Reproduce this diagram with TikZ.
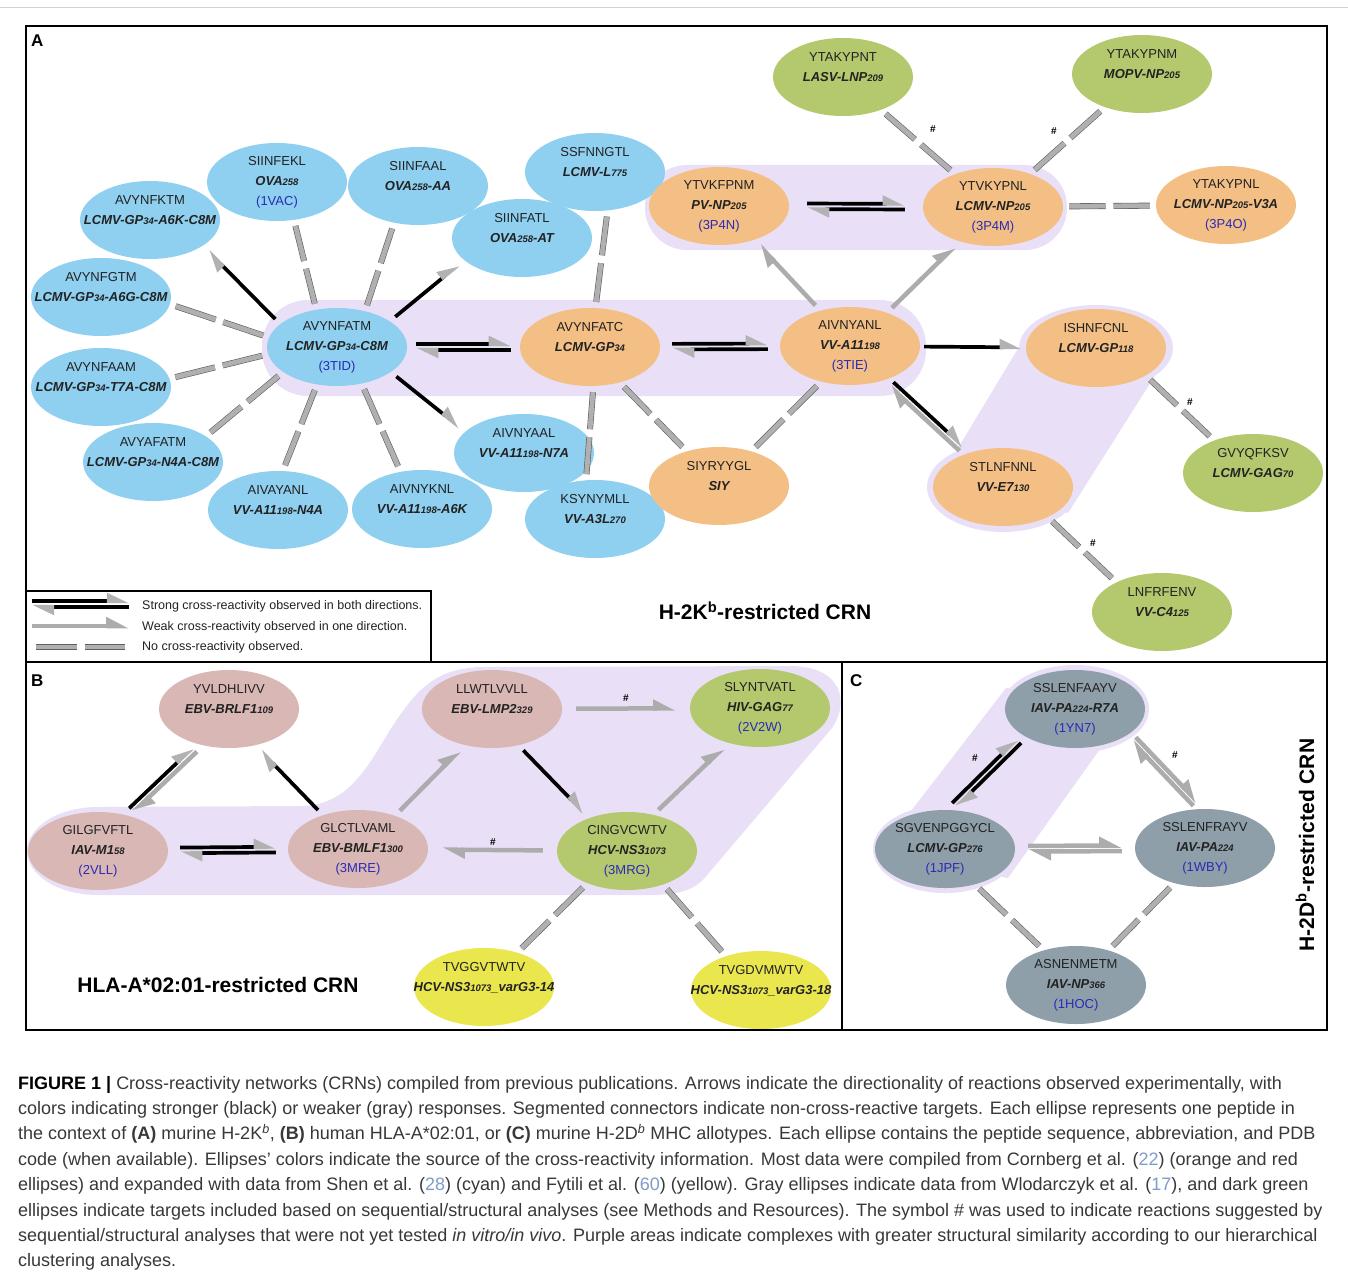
\documentclass[tikz,border=0pt]{standalone}
\usepackage{fontspec}
\setmainfont{Liberation Sans}
\usetikzlibrary{shapes.geometric,arrows.meta,calc}
\definecolor{cyanE}{HTML}{8FCFF0}
\definecolor{orangeE}{HTML}{F3BF85}
\definecolor{oliveE}{HTML}{B4C86E}
\definecolor{roseE}{HTML}{D9B7B4}
\definecolor{yellowE}{HTML}{E9E64E}
\definecolor{slateE}{HTML}{8E9FAA}
\definecolor{lav}{HTML}{E9E0F7}
\definecolor{pdb}{HTML}{2A2AB5}
\definecolor{txt}{HTML}{222222}
\definecolor{captc}{HTML}{383838}
\definecolor{refc}{HTML}{7F9CC8}
\newcommand\sm[1]{{\fontsize{9.5}{9}\selectfont #1}}
\newcommand\pep[3]{\makebox[0pt]{#1}\\\makebox[0pt]{\bfseries\itshape #2}\\\makebox[0pt]{\color{pdb}#3}}
\newcommand\twoway[4]{%
  \path (#1) -- (#2) coordinate[pos=0] (tw1) coordinate[pos=1] (tw2);
  \draw[#3] ($(tw1)!2.8pt!90:(tw2)$) -- ($(tw2)!2.8pt!-90:(tw1)$);
  \draw[#4] ($(tw2)!2.8pt!90:(tw1)$) -- ($(tw1)!2.8pt!-90:(tw2)$);}
\newcommand\nocr[2]{%
  \path (#1) -- (#2) coordinate[pos=0.5] (ncm);
  \draw[nobar, shorten <=6pt] (#1) -- ($(ncm)!4pt!(#1)$);
  \draw[nobar, shorten >=6pt] ($(ncm)!4pt!(#2)$) -- (#2);}
\tikzset{
  pep/.style={ellipse, inner sep=0pt, minimum width=140pt, minimum height=78pt,
    align=center, font=\fontsize{13}{20}\selectfont, text=txt},
  cy/.style={pep, fill=cyanE},
  org/.style={pep, fill=orangeE},
  olv/.style={pep, fill=oliveE},
  ros/.style={pep, fill=roseE},
  yel/.style={pep, fill=yellowE},
  sla/.style={pep, fill=slateE},
  endgap/.style={shorten <=#1pt, shorten >=#1pt},
  strong/.style={draw=black, line width=3.7pt, endgap=7,
    -{Triangle[harpoon, length=18pt, width=16pt, color=gray!60]}},
  weak/.style={draw=gray!65, line width=4.5pt, endgap=7,
    -{Triangle[harpoon, length=18pt, width=17pt, color=gray!65]}},
  nobar/.style={draw=gray!75!black, line width=0.6pt, double=gray!62, double distance=4.8pt},
  hashlbl/.style={font=\fontsize{10}{10}\selectfont\bfseries, inner sep=1pt},
  ttl/.style={font=\fontsize{21}{24}\selectfont\bfseries, inner sep=0pt},
  lett/.style={font=\fontsize{17}{20}\selectfont\bfseries, inner sep=0pt, anchor=base west},
  lgtext/.style={font=\fontsize{12.5}{13}\selectfont, inner sep=0pt, anchor=base west, text=txt},
  captxt/.style={font=\fontsize{18}{20}\selectfont, inner sep=0pt, anchor=base west, text=captc},
}
\begin{document}
\begin{tikzpicture}[x=1pt,y=-1pt]
\fill[white] (0,0) rectangle (1348,1276);
\useasboundingbox (0,0) rectangle (1348,1276);
\draw[gray!35, line width=1pt] (0,8) -- (1348,8);

% ---------- purple areas ----------
\fill[lav, rounded corners=46pt] (262,300) rectangle (926,396);
\fill[lav, rounded corners=42pt] (645,165) rectangle (1067,250);
\fill[lav] (1096,348) ellipse [x radius=77, y radius=43];
\fill[lav] (1003,487) ellipse [x radius=76, y radius=45];
\fill[lav] (1022,342) -- (1168,355) -- (1068,513) -- (946,468) -- cycle;
\fill[lav] (98,851) ellipse [x radius=71, y radius=44];
\fill[lav] (98,807) -- (300,806) .. controls (355,806) and (372,755) .. (398,718)
  .. controls (420,686) and (440,667) .. (485,667) -- (790,666)
  .. controls (842,666) and (850,702) .. (832,728) -- (708,874)
  .. controls (696,889) and (682,895) .. (650,895) -- (98,895) -- cycle;
\fill[lav] (1075,709) ellipse [x radius=74, y radius=44];
\fill[lav] (945,849) ellipse [x radius=72, y radius=44];
\fill[lav] (877,855) -- (1006,688) -- (1135,700) -- (1008,878) -- cycle;

% ---------- panel A nodes ----------
\node[cy] (hub) at (337,347) {\pep{AVYNFATM}{LCMV-GP\sm{34}-C8M}{(3TID)}};
\node[cy] (ekl) at (277,182) {\pep{SIINFEKL}{OVA\sm{258}}{(1VAC)}};
\node[cy] (aal) at (418,186) {\pep{SIINFAAL}{OVA\sm{258}-AA}{}};
\node[cy] (atl) at (522,238) {\pep{SIINFATL}{OVA\sm{258}-AT}{}};
\node[cy] (ngt) at (595,172) {\pep{SSFNNGTL}{LCMV-L\sm{775}}{}};
\node[cy] (ktm) at (150,220) {\pep{AVYNFKTM}{LCMV-GP\sm{34}-A6K-C8M}{}};
\node[cy] (gtm) at (101,297) {\pep{AVYNFGTM}{LCMV-GP\sm{34}-A6G-C8M}{}};
\node[cy] (aam) at (101,387) {\pep{AVYNFAAM}{LCMV-GP\sm{34}-T7A-C8M}{}};
\node[cy] (n4a) at (153,462) {\pep{AVYAFATM}{LCMV-GP\sm{34}-N4A-C8M}{}};
\node[cy] (yan) at (278,510) {\pep{AIVAYANL}{VV-A11\sm{198}-N4A}{}};
\node[cy] (a6k) at (422,509) {\pep{AIVNYKNL}{VV-A11\sm{198}-A6K}{}};
\node[cy] (n7a) at (524,453) {\pep{AIVNYAAL}{VV-A11\sm{198}-N7A}{}};
\node[cy] (a3l) at (595,519) {\pep{KSYNYMLL}{VV-A3L\sm{270}}{}};
\node[org] (atc) at (590,347) {\pep{AVYNFATC}{LCMV-GP\sm{34}}{}};
\node[org] (anl) at (850,346) {\pep{AIVNYANL}{VV-A11\sm{198}}{(3TIE)}};
\node[org] (kfp) at (719,206) {\pep{YTVKFPNM}{PV-NP\sm{205}}{(3P4N)}};
\node[org] (kyp) at (993,207) {\pep{YTVKYPNL}{LCMV-NP\sm{205}}{(3P4M)}};
\node[org] (v3a) at (1226,205) {\pep{YTAKYPNL}{LCMV-NP\sm{205}-V3A}{(3P4O)}};
\node[org] (ish) at (1096,348) {\pep{ISHNFCNL}{LCMV-GP\sm{118}}{}};
\node[org] (stl) at (1003,487) {\pep{STLNFNNL}{VV-E7\sm{130}}{}};
\node[org] (siy) at (719,486) {\pep{SIYRYYGL}{SIY}{}};
\node[olv] (lasv) at (843,77) {\pep{YTAKYPNT}{LASV-LNP\sm{209}}{}};
\node[olv] (mopv) at (1142,74) {\pep{YTAKYPNM}{MOPV-NP\sm{205}}{}};
\node[olv] (gag) at (1253,473) {\pep{GVYQFKSV}{LCMV-GAG\sm{70}}{}};
\node[olv] (c4) at (1162,612) {\pep{LNFRFENV}{VV-C4\sm{125}}{}};

% ---------- panel B nodes ----------
\node[ros] (yvl) at (229,709) {\pep{YVLDHLIVV}{EBV-BRLF1\sm{109}}{}};
\node[ros] (gil) at (98,851) {\pep{GILGFVFTL}{IAV-M1\sm{58}}{(2VLL)}};
\node[ros] (glc) at (358,849) {\pep{GLCTLVAML}{EBV-BMLF1\sm{300}}{(3MRE)}};
\node[ros] (llw) at (492,709) {\pep{LLWTLVVLL}{EBV-LMP2\sm{329}}{}};
\node[olv] (sly) at (760,708) {\pep{SLYNTVATL}{HIV-GAG\sm{77}}{(2V2W)}};
\node[olv] (cin) at (627,851) {\pep{CINGVCWTV}{HCV-NS3\sm{1073}}{(3MRG)}};
\node[yel] (vg14) at (484,987) {\pep{TVGGVTWTV}{HCV-NS3\sm{1073}\_varG3-14}{}};
\node[yel] (vg18) at (761,990) {\pep{TVGDVMWTV}{HCV-NS3\sm{1073}\_varG3-18}{}};

% ---------- panel C nodes ----------
\node[sla] (ssla) at (1075,709) {\pep{SSLENFAAYV}{IAV-PA\sm{224}-R7A}{(1YN7)}};
\node[sla] (sgv) at (945,849) {\pep{SGVENPGGYCL}{LCMV-GP\sm{276}}{(1JPF)}};
\node[sla] (sslr) at (1205,848) {\pep{SSLENFRAYV}{IAV-PA\sm{224}}{(1WBY)}};
\node[sla] (asn) at (1076,985) {\pep{ASNENMETM}{IAV-NP\sm{366}}{(1HOC)}};

% ---------- panel A connectors ----------
\twoway{hub}{atc}{strong, endgap=9}{strong, endgap=9}
\twoway{atc}{anl}{strong, endgap=12}{strong, endgap=12}
\twoway{kfp}{kyp}{strong, endgap=18}{strong, endgap=18}
\draw[strong] (hub.158) -- (ktm.-26);
\draw[strong] (hub.26) -- (atl.201);
\draw[strong] (hub.-25) -- (n7a.160);
\nocr{ekl.-66}{hub.119}
\nocr{aal.-123}{hub.52}
\nocr{gtm.-6}{hub.172}
\nocr{aam.7}{hub.186}
\nocr{n4a.26}{hub.205}
\nocr{yan.83}{hub.242}
\nocr{a6k.120}{hub.-56}
\nocr{ngt.-72}{atc.82}
\nocr{atc.-85}{a3l.103}
\nocr{atc.-50}{siy.133}
\nocr{anl.231}{siy.47}
\draw[weak] (anl.130) -- (kfp.-44);
\draw[weak] (anl.42) -- (kyp.226);
\draw[strong, endgap=4] (anl) -- (ish);
\twoway{anl}{stl}{strong}{weak}
\nocr{kyp}{v3a}
\nocr{lasv}{kyp}
\nocr{mopv}{kyp}
\nocr{ish.-29}{gag.140}
\nocr{stl.-34}{c4.147}
\node[hashlbl] (h1) at (933,129) {\#};
\node[hashlbl] (h2) at (1054,131) {\#};
\node[hashlbl] (h3) at (1190,402) {\#};
\node[hashlbl] (h4) at (1093,543) {\#};

% ---------- panel B connectors ----------
\twoway{gil.52}{yvl.231}{strong}{weak}
\draw[strong] (glc.136) -- (yvl.-54);
\twoway{gil}{glc}{strong, endgap=12}{strong, endgap=12}
\draw[weak] (glc.42) -- (llw.233);
\draw[weak, endgap=14] (llw) -- (sly);
\draw[strong] (llw.-54) -- (cin.139);
\draw[weak] (cin.54) -- (sly.228);
\draw[weak, endgap=14] (cin) -- (glc);
\nocr{cin.219}{vg14.46}
\nocr{cin.-43}{vg18.136}
\node[hashlbl] (h5) at (626,698) {\#};
\node[hashlbl] (h6) at (493,842) {\#};

% ---------- panel C connectors ----------
\twoway{sgv.84}{ssla.208}{strong}{strong}
\twoway{ssla.-25}{sslr.97}{weak}{weak}
\twoway{sgv}{sslr}{weak, endgap=13}{weak, endgap=13}
\nocr{sgv.-50}{asn.133}
\nocr{sslr.229}{asn.47}
\node[hashlbl] (h7) at (975,758) {\#};
\node[hashlbl] (h8) at (1175,755) {\#};

% ---------- legend ----------
\draw[fill=white, line width=1.3pt] (26,591) rectangle (431,662);
\coordinate (lg1a) at (32,604); \coordinate (lg1b) at (129,604);
\twoway{lg1a}{lg1b}{strong, endgap=0}{strong, endgap=0}
\coordinate (lg2a) at (32,626); \coordinate (lg2b) at (129,626);
\draw[weak, endgap=0] (lg2a) -- (lg2b);
\coordinate (lg3a) at (36,647); \coordinate (lg3b) at (125,647);
\coordinate (lg3m) at ($(lg3a)!0.5!(lg3b)$);
\draw[nobar] (lg3a) -- ($(lg3m)!4pt!(lg3a)$);
\draw[nobar] ($(lg3m)!4pt!(lg3b)$) -- (lg3b);
\node[lgtext] (lt1) at (142,609) {Strong cross-reactivity observed in both directions.};
\node[lgtext] (lt2) at (142,630) {Weak cross-reactivity observed in one direction.};
\node[lgtext] (lt3) at (142,650) {No cross-reactivity observed.};

% ---------- frames and titles ----------
\draw[line width=1.3pt] (26,26) rectangle (1327,662);
\draw[line width=1.3pt] (26,662) rectangle (842,1030);
\draw[line width=1.3pt] (842,662) rectangle (1327,1030);
\node[lett] (la) at (31,47) {A};
\node[lett] (lb) at (31,686) {B};
\node[lett] (lc) at (850,686) {C};
\node[ttl] (t1) at (765,611) {H-2K\textsuperscript{b}-restricted CRN};
\node[ttl] (t2) at (218,985) {HLA-A*02:01-restricted CRN};
\node[ttl, rotate=90] (t3) at (1305,845) {H-2D\textsuperscript{b}-restricted CRN};

% ---------- caption ----------
\node[captxt] (c1) at (18,1089) {{\bfseries\color{black}FIGURE 1 |} Cross-reactivity networks (CRNs) compiled from previous publications. Arrows indicate the directionality of reactions observed experimentally, with};
\node[captxt] (c2) at (18,1114.4) {colors indicating stronger (black) or weaker (gray) responses. Segmented connectors indicate non-cross-reactive targets. Each ellipse represents one peptide in};
\node[captxt] (c3) at (18,1139.8) {the context of {\bfseries (A)} murine H-2K\textsuperscript{\itshape b}, {\bfseries (B)} human HLA-A*02:01, or {\bfseries (C)} murine H-2D\textsuperscript{\itshape b} MHC allotypes. Each ellipse contains the peptide sequence, abbreviation, and PDB};
\node[captxt] (c4) at (18,1165.2) {code (when available). Ellipses’ colors indicate the source of the cross-reactivity information. Most data were compiled from Cornberg et al. ({\color{refc}22}) (orange and red};
\node[captxt] (c5) at (18,1190.6) {ellipses) and expanded with data from Shen et al. ({\color{refc}28}) (cyan) and Fytili et al. ({\color{refc}60}) (yellow). Gray ellipses indicate data from Wlodarczyk et al. ({\color{refc}17}), and dark green};
\node[captxt] (c6) at (18,1216) {ellipses indicate targets included based on sequential/structural analyses (see Methods and Resources). The symbol \# was used to indicate reactions suggested by};
\node[captxt] (c7) at (18,1241.4) {sequential/structural analyses that were not yet tested \textit{in vitro/in vivo}. Purple areas indicate complexes with greater structural similarity according to our hierarchical};
\node[captxt] (c8) at (18,1266.8) {clustering analyses.};
\end{tikzpicture}
\end{document}
